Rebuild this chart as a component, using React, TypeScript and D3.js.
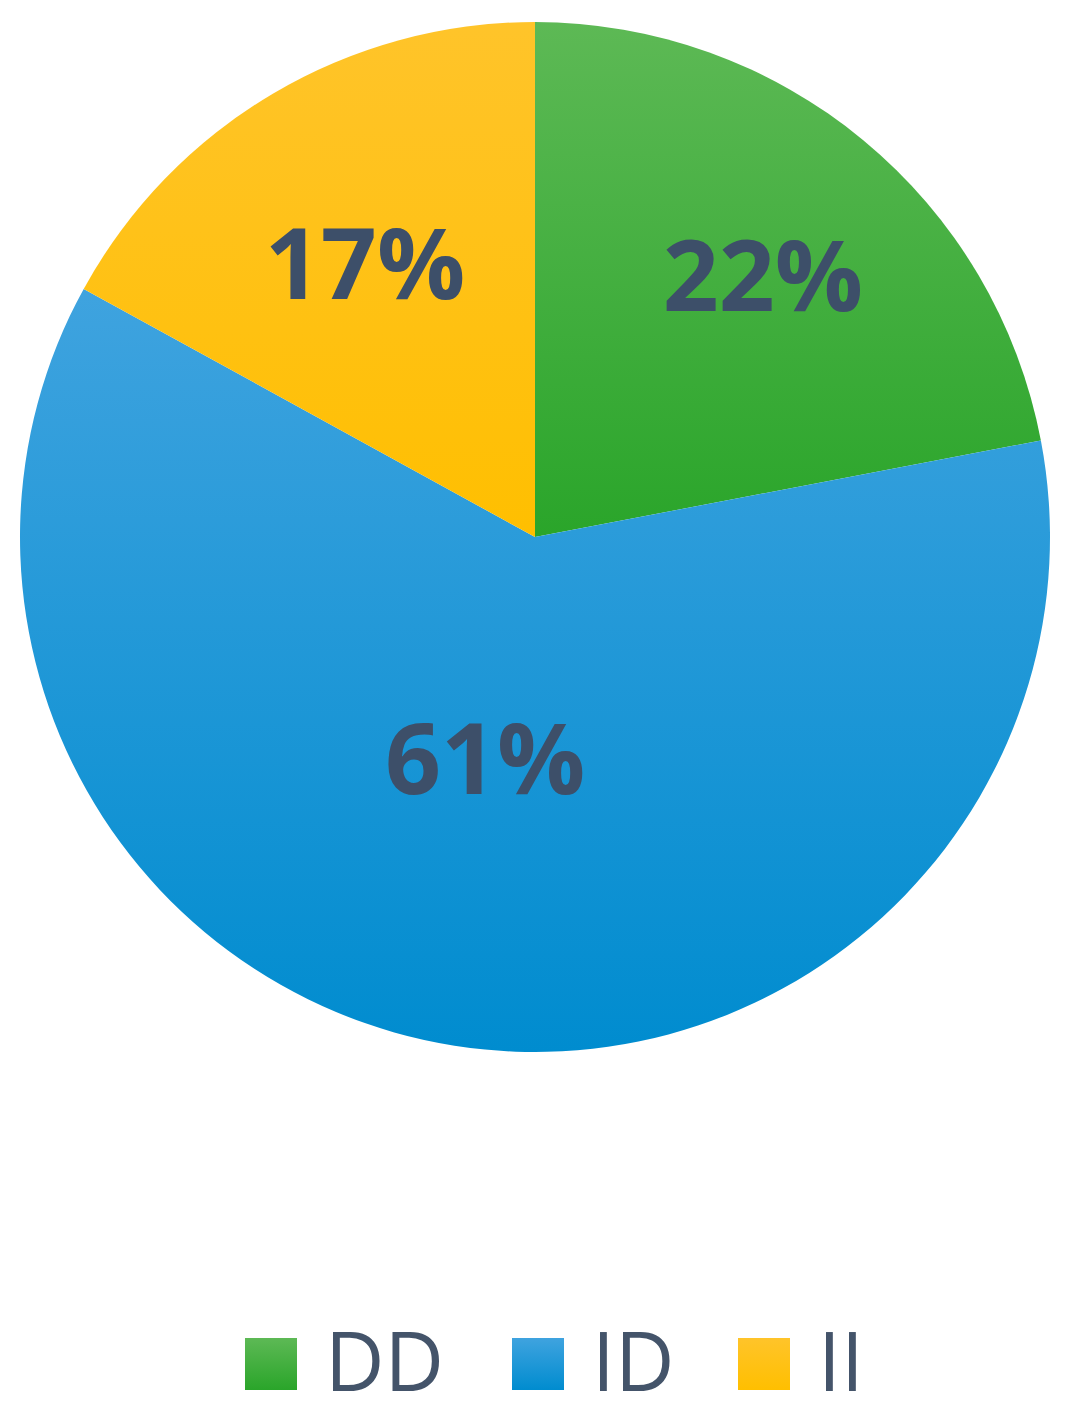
import React from "react";
import * as d3 from "d3";

const categories = ["DD", "ID", "II"];
const values = [22, 61, 17];
const labels = ["22%", "61%", "17%"];

const gradTop = ["#5db955", "#3fa3df", "#ffc42a"];
const gradBottom = ["#2aa52a", "#008ccf", "#ffbf00"];
const labelRadiusFrac = [0.672, 0.444, 0.623];
const labelAngleShiftDeg = [1.6, 3.6, -1.4];

const W = 1078;
const H = 1415;
const cx = 535;
const cy = 537;
const R = 515;

export default function App() {
  const pie = d3.pie<number>().sort(null).value((d) => d);
  const arcs = pie(values);
  const arcGen = d3.arc<d3.PieArcDatum<number>>().innerRadius(0).outerRadius(R);

  const legendX = [245, 512, 738];
  return (
    <div style={{ position: "absolute", left: 0, top: 0 }}>
      <svg width={W} height={H} style={{ display: "block", background: "#fff" }}>
        <defs>
          {categories.map((c, i) => (
            <linearGradient key={c} id={`g${i}`} x1="0" y1="0" x2="0" y2="1">
              <stop offset="0%" stopColor={gradTop[i]} />
              <stop offset="100%" stopColor={gradBottom[i]} />
            </linearGradient>
          ))}
        </defs>
        <g transform={`translate(${cx},${cy})`}>
          {arcs.map((a, i) => (
            <path key={i} d={arcGen(a) || ""} fill={`url(#g${i})`} />
          ))}
          {arcs.map((a, i) => {
            const lr = R * labelRadiusFrac[i];
            const ang = (a.startAngle + a.endAngle) / 2 + (labelAngleShiftDeg[i] * Math.PI) / 180;
            const x = lr * Math.sin(ang);
            const y = -lr * Math.cos(ang) - 4;
            return (
              <text
                key={"t" + i}
                x={x}
                y={y}
                textAnchor="middle"
                dominantBaseline="central"
                fontFamily="'Open Sans', sans-serif"
                fontWeight="bold"
                fontSize={98}
                fill="#3d4f69"
              >
                {labels[i]}
              </text>
            );
          })}
        </g>
        {categories.map((c, i) => (
          <g key={"l" + c}>
            <rect x={legendX[i]} y={1338} width={52} height={52} fill={`url(#g${i})`} />
            <text
              x={legendX[i] + 80}
              y={1391}
              fontFamily="'Open Sans', sans-serif"
              fontWeight={400}
              fontSize={82}
              fill="#44546a"
            >
              {c}
            </text>
          </g>
        ))}
      </svg>
    </div>
  );
}
